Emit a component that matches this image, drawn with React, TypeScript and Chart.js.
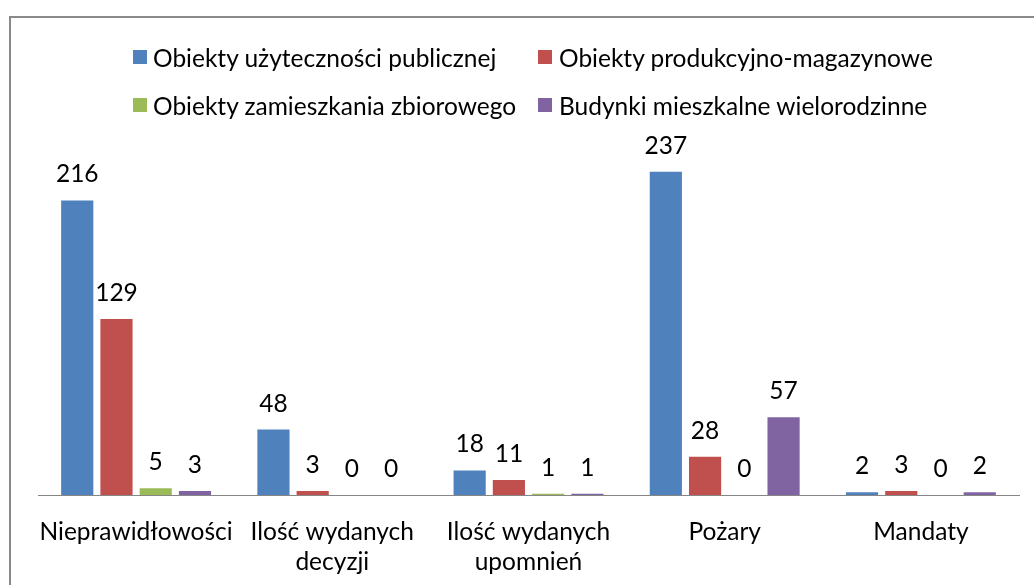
import React, { useEffect, useRef } from "react";
import { Chart, registerables } from "chart.js";

Chart.register(...registerables);

const categories: (string | string[])[] = [
  "Nieprawidłowości",
  ["Ilość wydanych", "decyzji"],
  ["Ilość wydanych", "upomnień"],
  "Pożary",
  "Mandaty",
];
const seriesNames = [
  "Obiekty użyteczności publicznej",
  "Obiekty produkcyjno-magazynowe",
  "Obiekty zamieszkania zbiorowego",
  "Budynki mieszkalne wielorodzinne",
];
const uzytecznosciPublicznej = [216, 48, 18, 237, 2];
const produkcyjnoMagazynowe = [129, 3, 11, 28, 3];
const zamieszkaniaZbiorowego = [5, 0, 1, 0, 0];
const mieszkalneWielorodzinne = [3, 0, 1, 57, 2];
const colors = ["#4F81BD", "#C0504D", "#9BBB59", "#8064A2"];

const FONT = "Lato";
const FS = 24.5;

const valueLabels = {
  id: "valueLabels",
  afterDatasetsDraw(chart: any) {
    const ctx = chart.ctx;
    ctx.save();
    ctx.font = `${FS}px ${FONT}`;
    ctx.fillStyle = "#000";
    ctx.textAlign = "center";
    ctx.textBaseline = "alphabetic";
    chart.data.datasets.forEach((ds: any, i: number) => {
      const meta = chart.getDatasetMeta(i);
      meta.data.forEach((el: any, j: number) => {
        ctx.fillText(String(ds.data[j]), el.x, el.y - 18);
      });
    });
    ctx.restore();
  },
};

export default function App() {
  const ref = useRef<HTMLCanvasElement | null>(null);
  useEffect(() => {
    if (!ref.current) return;
    const series = [
      uzytecznosciPublicznej,
      produkcyjnoMagazynowe,
      zamieszkaniaZbiorowego,
      mieszkalneWielorodzinne,
    ];
    const chart = new Chart(ref.current, {
      type: "bar",
      data: {
        labels: categories,
        datasets: series.map((d, i) => ({
          label: seriesNames[i],
          data: d,
          backgroundColor: colors[i],
          borderWidth: 0,
          categoryPercentage: 0.8,
          barPercentage: 0.82,
        })),
      },
      options: {
        animation: false,
        responsive: false,
        maintainAspectRatio: false,
        layout: { padding: { left: 38, right: 15, top: 154, bottom: 0 } },
        plugins: {
          legend: { display: false },
          tooltip: { enabled: false },
        },
        scales: {
          y: { display: false, min: 0, max: 250 },
          x: {
            grid: { display: false, drawTicks: false },
            border: { display: true, color: "#868686", width: 1 },
            ticks: {
              color: "#000",
              font: { family: FONT, size: FS, lineHeight: 1.22 },
              padding: 22,
              maxRotation: 0,
              autoSkip: false,
            },
            afterFit: (axis: any) => {
              axis.height = 90;
            },
          },
        },
      },
      plugins: [valueLabels],
    });
    return () => chart.destroy();
  }, []);

  const legendItem = (i: number, left: number, top: number) => (
    <div
      key={i}
      style={{
        position: "absolute",
        left,
        top,
        height: 24,
        display: "flex",
        alignItems: "center",
        whiteSpace: "nowrap",
        fontFamily: FONT,
        fontSize: FS,
        color: "#000",
      }}
    >
      <span
        style={{
          display: "inline-block",
          width: 14,
          height: 14,
          background: colors[i],
          marginRight: i % 2 === 0 ? 6 : 7,
        }}
      />
      <span>{seriesNames[i]}</span>
    </div>
  );

  return (
    <div
      style={{
        position: "fixed",
        left: 0,
        top: 0,
        width: 1034,
        height: 585,
        overflow: "hidden",
        background: "#fff",
      }}
    >
      <div
        style={{
          position: "absolute",
          left: 9,
          top: 16,
          width: 1060,
          height: 620,
          border: "2px solid #898989",
        }}
      />
      <canvas
        ref={ref}
        width={1034}
        height={585}
        style={{ position: "absolute", left: 0, top: 0, width: 1034, height: 585 }}
      />
      {legendItem(0, 133, 45)}
      {legendItem(1, 538, 45)}
      {legendItem(2, 133, 93)}
      {legendItem(3, 538, 93)}
    </div>
  );
}
